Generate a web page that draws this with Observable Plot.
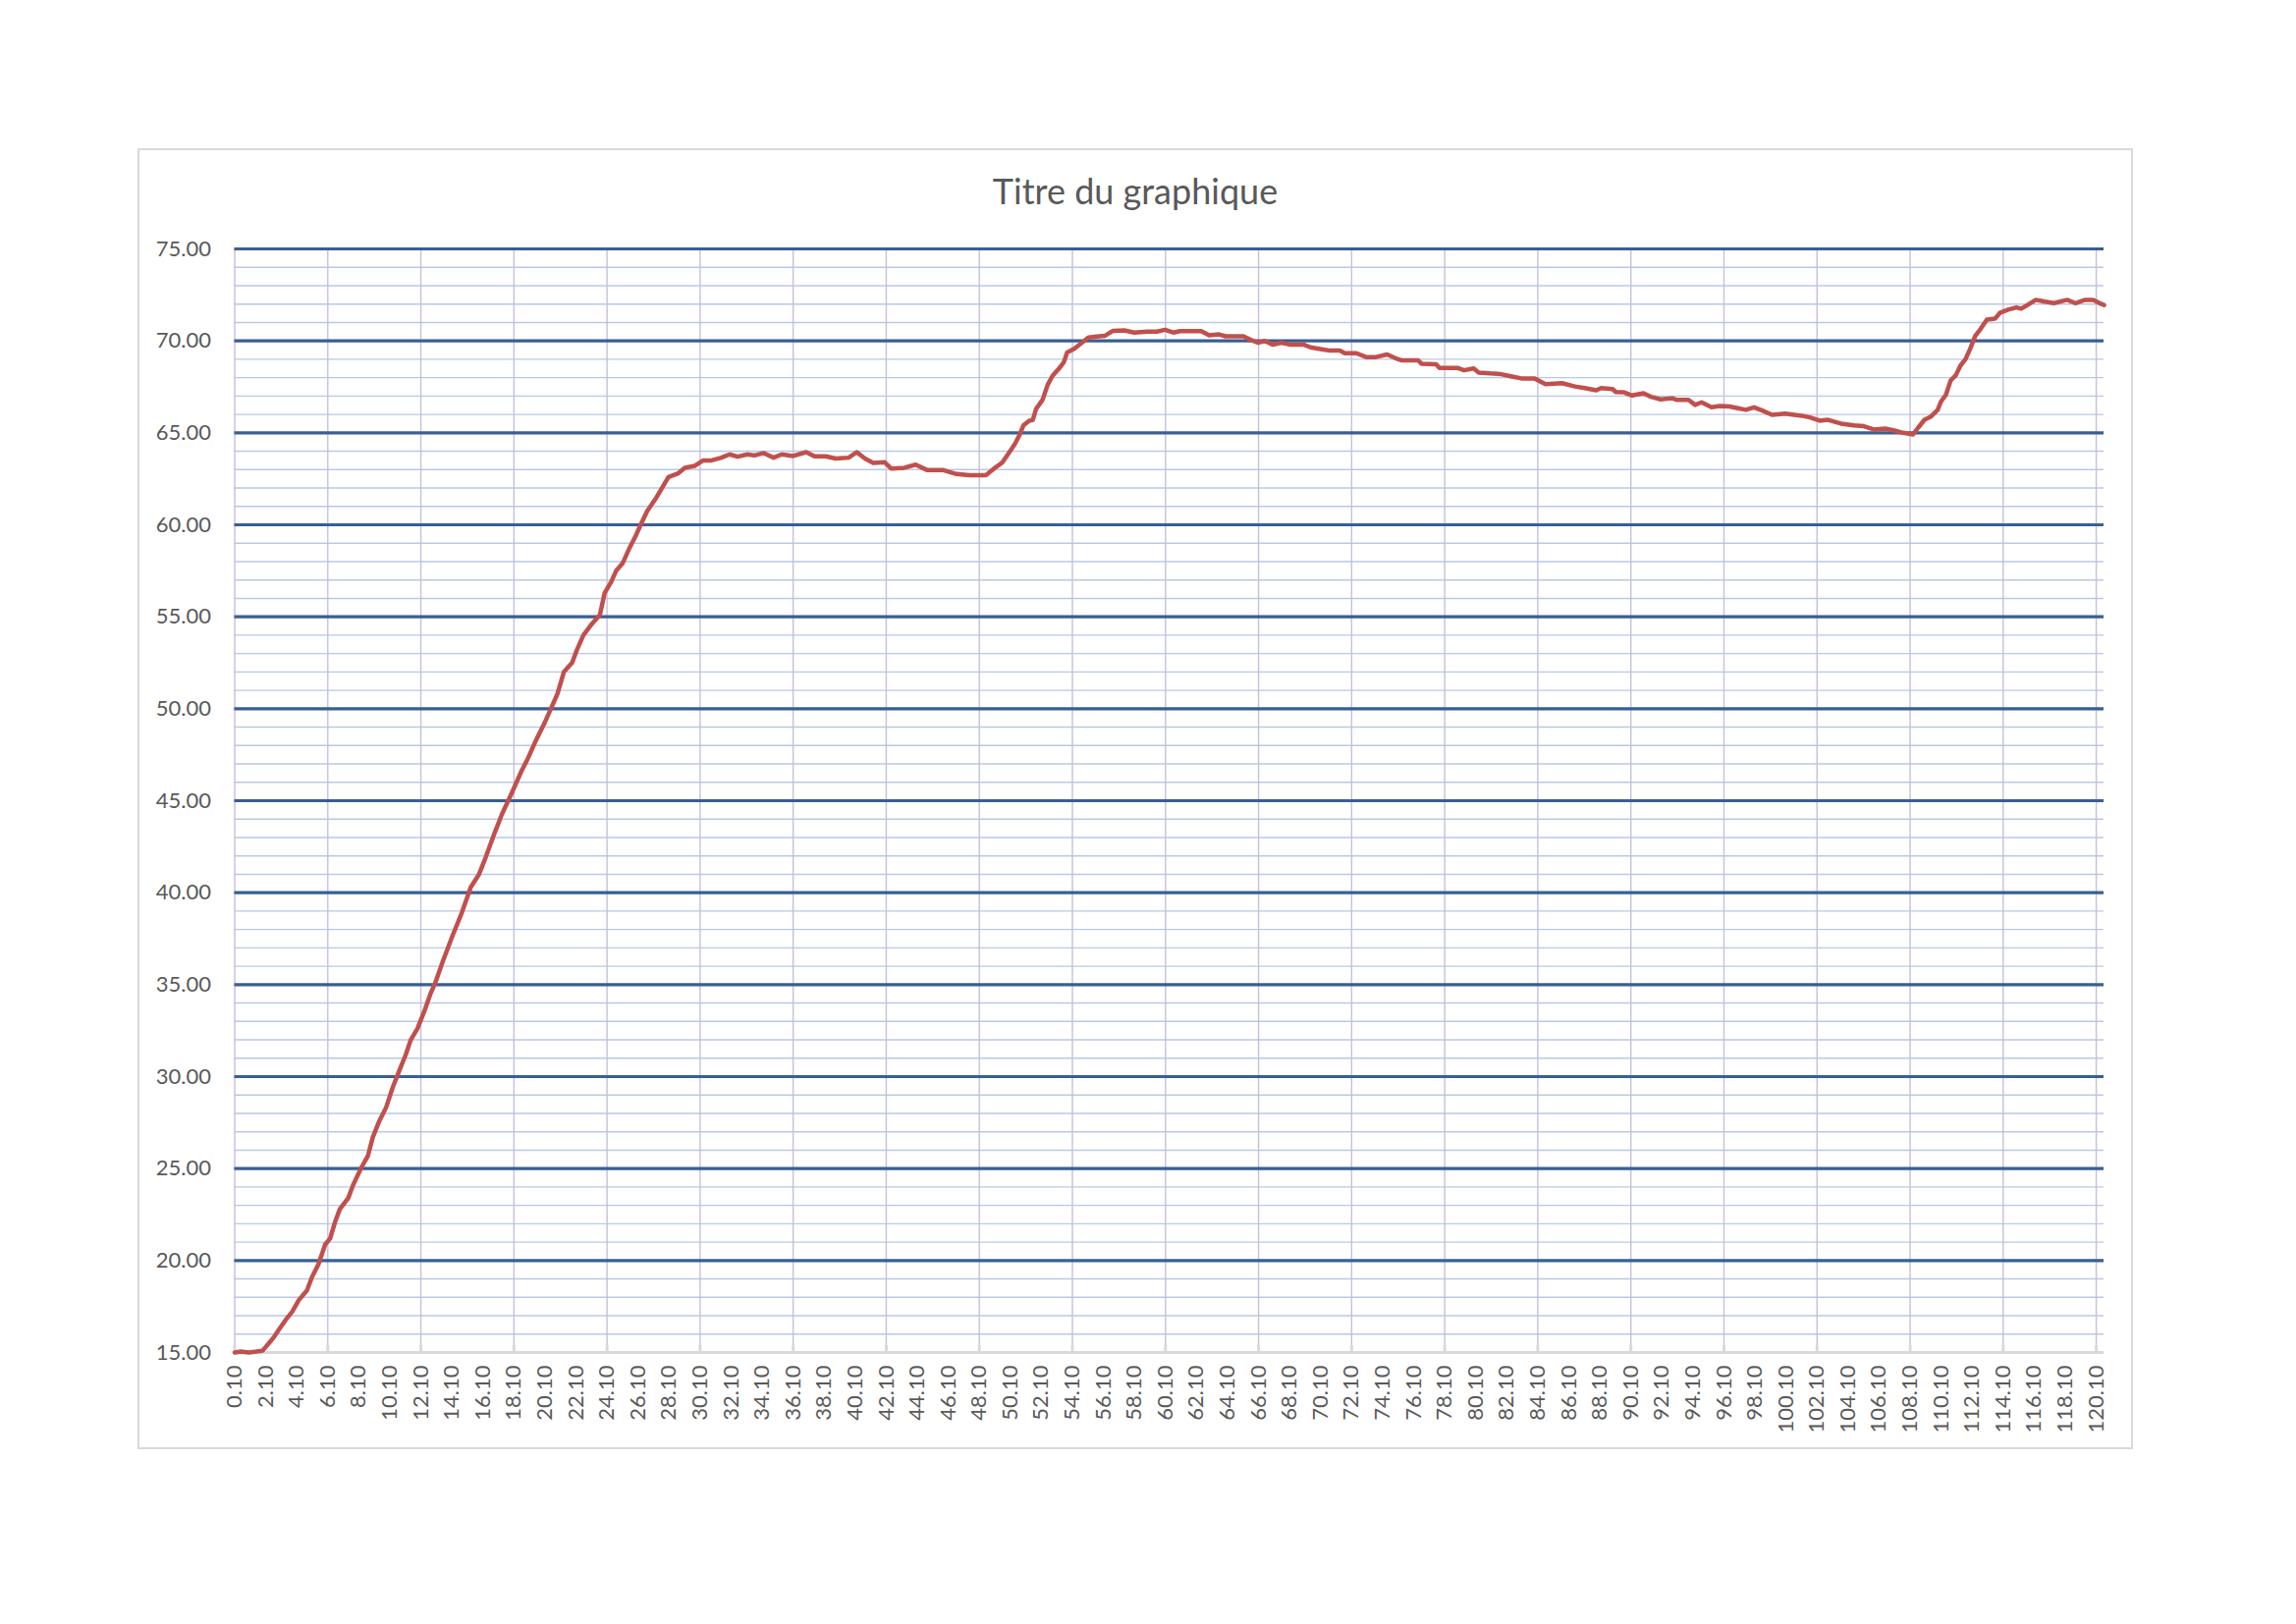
<!DOCTYPE html>
<html>
<head>
<meta charset="utf-8">
<script src="https://cdn.jsdelivr.net/npm/d3@7"></script>
<script src="https://cdn.jsdelivr.net/npm/@observablehq/plot@0.6"></script>
<style>
html, body { margin: 0; padding: 0; background: #fff; }
#chart { position: absolute; left: 140px; top: 151px; }
#frame { position: absolute; left: 140px; top: 151px; width: 2032px; height: 1325px; border: 2px solid #d9d9d9; box-sizing: border-box; pointer-events: none; }
#title { position: absolute; left: 140px; width: 2032px; top: 176px; text-align: center; font-family: Lato, "Open Sans", sans-serif; font-size: 36px; line-height: 36px; color: #595959; }
</style>
</head>
<body>
<div id="chart"></div>
<div id="frame"></div>
<div id="title">Titre du graphique</div>
<script>
// Time (category) values
const time = [0.1, 0.5, 1.0, 1.5, 1.9, 2.33, 2.64, 2.96, 3.39, 3.81, 4.23, 4.76, 5.08, 5.5, 5.93, 6.25, 6.57, 6.88, 7.42, 7.73,
  8.26, 8.69, 9.0, 9.43, 9.85, 10.28, 10.7, 11.13, 11.45, 11.87, 12.3, 12.72, 13.03, 13.53, 14.16, 14.69, 15.32, 15.85, 16.27, 16.79,
  17.32, 17.95, 18.58, 19.0, 19.53, 20.06, 20.48, 20.9, 21.32, 21.85, 22.16, 22.58, 23.11, 23.64, 23.95, 24.37, 24.69, 25.1, 25.53, 25.95,
  26.27, 26.69, 27.22, 27.64, 28.06, 28.69, 29.11, 29.74, 30.3, 30.84, 31.47, 32.0, 32.52, 33.15, 33.6, 34.2, 34.84, 35.36, 36.1, 36.94,
  37.47, 38.2, 38.84, 39.68, 40.2, 40.73, 41.26, 42.0, 42.42, 43.26, 44.0, 44.74, 45.79, 46.63, 47.47, 48.52, 49.05, 49.57, 50.0, 50.4,
  50.7, 50.94, 51.3, 51.55, 51.76, 52.18, 52.5, 52.82, 53.24, 53.55, 53.76, 54.18, 54.6, 55.13, 55.66, 56.18, 56.7, 57.45, 58.08, 58.92,
  59.55, 60.08, 60.6, 61.03, 62.4, 62.92, 63.55, 63.97, 65.13, 65.55, 66.08, 66.5, 67.03, 67.55, 68.18, 69.03, 69.45, 70.08, 70.71, 71.34,
  71.66, 72.4, 73.03, 73.66, 74.39, 74.92, 75.34, 76.39, 76.6, 77.55, 77.76, 78.92, 79.34, 79.97, 80.29, 81.03, 81.66, 82.29, 83.03, 83.87,
  84.6, 85.66, 86.5, 87.13, 87.87, 88.18, 88.92, 89.13, 89.66, 90.18, 90.92, 91.39, 92.02, 92.76, 93.08, 93.82, 94.24, 94.66, 95.3, 95.83,
  96.46, 96.99, 97.52, 98.04, 98.57, 99.2, 100.05, 101.11, 101.64, 102.27, 102.8, 103.64, 104.49, 105.12, 105.76, 106.5, 107.02, 107.66, 108.29, 108.61,
  109.03, 109.45, 109.88, 110.09, 110.4, 110.72, 111.04, 111.35, 111.67, 111.99, 112.3, 112.62, 113.05, 113.57, 113.89, 114.42, 114.95, 115.26, 115.69, 116.21,
  116.74, 117.37, 118.22, 118.75, 119.38, 119.91, 120.44, 120.6];
// Temperature values
const temperature = [15.0, 15.05, 15.0, 15.05, 15.1, 15.53, 15.85, 16.25, 16.78, 17.22, 17.85, 18.38, 19.1, 19.8, 20.87, 21.2, 22.1, 22.8, 23.4, 24.1,
  25.05, 25.7, 26.7, 27.6, 28.3, 29.4, 30.3, 31.2, 32.0, 32.6, 33.5, 34.5, 35.1, 36.3, 37.7, 38.8, 40.3, 41.0, 41.9, 43.1,
  44.25, 45.4, 46.6, 47.3, 48.3, 49.2, 50.0, 50.8, 52.0, 52.5, 53.2, 54.0, 54.6, 55.1, 56.3, 56.9, 57.5, 57.9, 58.7, 59.4,
  60.0, 60.75, 61.4, 62.0, 62.6, 62.8, 63.1, 63.2, 63.5, 63.5, 63.65, 63.83, 63.7, 63.83, 63.77, 63.9, 63.65, 63.83, 63.74, 63.95,
  63.72, 63.72, 63.6, 63.65, 63.95, 63.6, 63.36, 63.4, 63.06, 63.1, 63.27, 62.97, 62.97, 62.76, 62.7, 62.7, 63.06, 63.38, 63.9, 64.4,
  64.9, 65.4, 65.65, 65.7, 66.3, 66.8, 67.6, 68.1, 68.5, 68.84, 69.37, 69.55, 69.82, 70.18, 70.23, 70.27, 70.54, 70.57, 70.45, 70.5,
  70.5, 70.6, 70.45, 70.53, 70.53, 70.3, 70.35, 70.25, 70.25, 70.07, 69.9, 70.0, 69.79, 69.9, 69.79, 69.79, 69.65, 69.56, 69.47, 69.47,
  69.33, 69.33, 69.12, 69.12, 69.26, 69.06, 68.94, 68.94, 68.76, 68.73, 68.53, 68.53, 68.4, 68.5, 68.28, 68.23, 68.2, 68.09, 67.96, 67.96,
  67.65, 67.7, 67.52, 67.43, 67.31, 67.43, 67.38, 67.22, 67.2, 67.03, 67.15, 66.96, 66.82, 66.88, 66.79, 66.79, 66.52, 66.66, 66.39, 66.46,
  66.43, 66.34, 66.25, 66.39, 66.21, 65.98, 66.04, 65.93, 65.84, 65.66, 65.71, 65.5, 65.41, 65.36, 65.18, 65.23, 65.14, 65.0, 64.91, 65.27,
  65.71, 65.89, 66.25, 66.7, 67.05, 67.86, 68.12, 68.66, 69.0, 69.6, 70.27, 70.62, 71.16, 71.21, 71.52, 71.7, 71.82, 71.75, 71.96, 72.23,
  72.14, 72.05, 72.23, 72.05, 72.23, 72.23, 72.0, 71.95];

// Axis labels
const xLabels = [0.1, 2.1, 4.1, 6.1, 8.1, 10.1, 12.1, 14.1, 16.1, 18.1, 20.1, 22.1, 24.1, 26.1, 28.1, 30.1, 32.1, 34.1, 36.1, 38.1,
  40.1, 42.1, 44.1, 46.1, 48.1, 50.1, 52.1, 54.1, 56.1, 58.1, 60.1, 62.1, 64.1, 66.1, 68.1, 70.1, 72.1, 74.1, 76.1, 78.1,
  80.1, 82.1, 84.1, 86.1, 88.1, 90.1, 92.1, 94.1, 96.1, 98.1, 100.1, 102.1, 104.1, 106.1, 108.1, 110.1, 112.1, 114.1, 116.1, 118.1, 120.1];
const xGrid = [0.1, 6.1, 12.1, 18.1, 24.1, 30.1, 36.1, 42.1, 48.1, 54.1, 60.1, 66.1, 72.1, 78.1, 84.1, 90.1, 96.1, 102.1, 108.1, 114.1, 120.1];
const yMajor = [15, 20, 25, 30, 35, 40, 45, 50, 55, 60, 65, 70, 75];
const yMinor = [16, 17, 18, 19, 21, 22, 23, 24, 26, 27, 28, 29, 31, 32, 33, 34, 36, 37, 38, 39, 41, 42, 43, 44, 46, 47, 48, 49,
  51, 52, 53, 54, 56, 57, 58, 59, 61, 62, 63, 64, 66, 67, 68, 69, 71, 72, 73, 74];

const data = time.map((t, i) => ({t, v: temperature[i]}));
const fmt = d => d.toFixed(2);

const chart = Plot.plot({
  width: 2032,
  height: 1325,
  marginLeft: 98.5,
  marginRight: 30,
  marginTop: 102,
  marginBottom: 99,
  style: {background: "transparent", fontFamily: "Lato, 'Open Sans', sans-serif", fontSize: "22px", color: "#595959"},
  x: {type: "linear", domain: [0.1, 120.6]},
  y: {domain: [15, 75]},
  marks: [
    Plot.ruleY(yMinor, {stroke: "#b7c9e6", strokeWidth: 1.4}),
    Plot.ruleX(xGrid, {stroke: "#c6bfdc", strokeWidth: 1.4}),
    Plot.ruleY(yMajor.filter(v => v > 15), {stroke: "#385f91", strokeWidth: 3.2}),
    Plot.ruleY([15], {stroke: "#d9d9d9", strokeWidth: 3}),
    Plot.axisX(xGrid, {tickSize: -7, tickFormat: () => "", stroke: "#d9d9d9", strokeWidth: 3, label: null}),
    Plot.axisX(xLabels, {tickSize: 0, tickRotate: -90, tickPadding: 13, tickFormat: fmt, label: null, fill: "#595959"}),
    Plot.axisY(yMajor, {tickSize: 0, tickPadding: 24, tickFormat: fmt, label: null, fill: "#595959"}),
    Plot.line(data, {x: "t", y: "v", stroke: "#c0504d", strokeWidth: 4.5, strokeLinejoin: "round"})
  ]
});
document.getElementById("chart").appendChild(chart);
</script>
</body>
</html>
